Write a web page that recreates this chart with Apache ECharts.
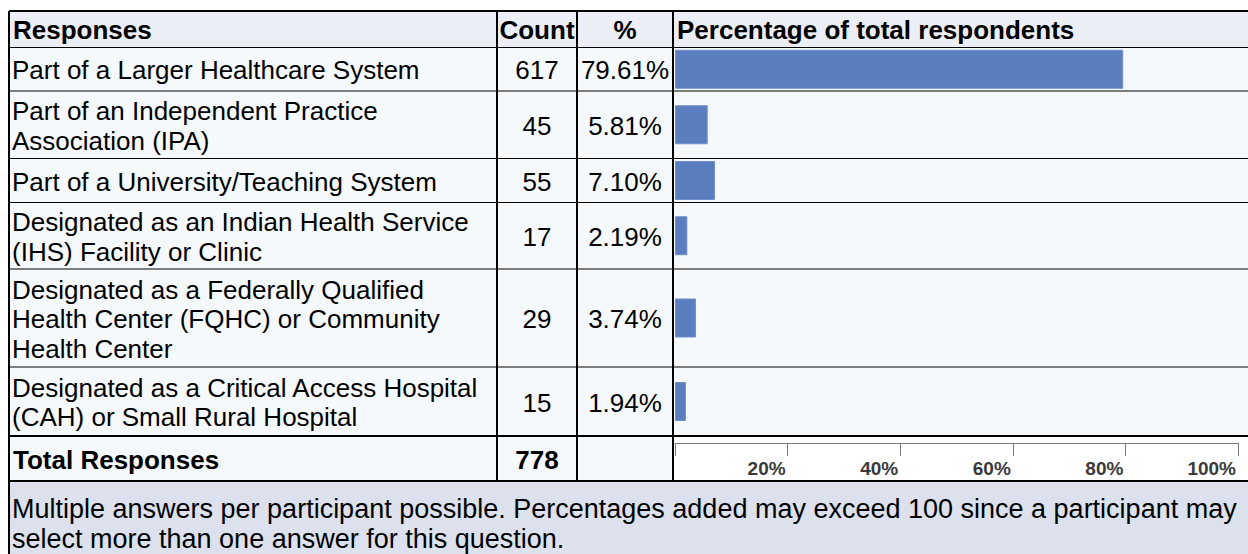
<!DOCTYPE html>
<html>
<head>
<meta charset="utf-8">
<script src="https://cdn.jsdelivr.net/npm/echarts@6/dist/echarts.min.js"></script>
<style>
    html, body {margin: 0; padding: 0; background: #fff;}
    #report-chart {width: 1248px; height: 554px;}
</style>
</head>
<body>
<div id="report-chart"></div>
<script>
// data
var headers = ['Responses', 'Count', '%', 'Percentage of total respondents'];
var responses = [
    'Part of a Larger Healthcare System',
    'Part of an Independent Practice\nAssociation (IPA)',
    'Part of a University/Teaching System',
    'Designated as an Indian Health Service\n(IHS) Facility or Clinic',
    'Designated as a Federally Qualified\nHealth Center (FQHC) or Community\nHealth Center',
    'Designated as a Critical Access Hospital\n(CAH) or Small Rural Hospital'
];
var counts = [617, 45, 55, 17, 29, 15];
var percents = [79.61, 5.81, 7.10, 2.19, 3.74, 1.94];
var totalLabel = 'Total Responses';
var totalCount = 778;
var axisMax = 100;
var axisStep = 20;
var footnote = 'Multiple answers per participant possible. Percentages added may exceed 100 since a participant may\nselect more than one answer for this question.';

// layout of the table (pixels)
var colX = [9, 497, 577, 673, 1250];
var rowY = [11, 47.5, 91, 158.5, 202.5, 269, 367, 436, 481, 556];
var barLeft = 675, barSpan = 563;
var font = '"Liberation Sans", Arial, Helvetica, sans-serif';

var chart = echarts.init(document.getElementById('report-chart'), null, {renderer: 'svg'});

var grids = [], xAxes = [], yAxes = [], series = [];
for (var i = 0; i < responses.length; i++) {
    grids.push({left: barLeft, width: barSpan, top: rowY[i + 1], height: rowY[i + 2] - rowY[i + 1]});
    xAxes.push({gridIndex: i, type: 'value', min: 0, max: axisMax, show: false});
    yAxes.push({gridIndex: i, type: 'category', data: [responses[i]], show: false});
    series.push({
        type: 'bar', xAxisIndex: i, yAxisIndex: i, data: [percents[i]],
        barWidth: 39, z: 3, silent: true,
        itemStyle: {color: '#5A7EBF', borderColor: '#6F8FCB', borderWidth: 1}
    });
}
// scale in the total row
var n = responses.length;
grids.push({left: barLeft, width: barSpan, top: 443, height: 30});
xAxes.push({
    gridIndex: n, type: 'value', position: 'top', min: 0, max: axisMax, interval: axisStep,
    axisLine: {show: true, onZero: false, lineStyle: {color: '#7A7A7A', width: 1}},
    axisTick: {show: true, inside: true, length: 13, lineStyle: {color: '#7A7A7A', width: 1}},
    splitLine: {show: false},
    axisLabel: {
        inside: true, margin: 16, align: 'right', verticalAlign: 'top',
        padding: [0, 2, 0, 0], color: '#3A3A3A', fontSize: 19, fontWeight: 'bold', fontFamily: font,
        formatter: function (v) { return v === 0 ? '' : v + '%'; }
    }
});
yAxes.push({gridIndex: n, type: 'value', min: 0, max: 1, show: false});

// table backgrounds, rules and texts
var els = [];
function rect(x1, y1, x2, y2, fill) {
    els.push({type: 'rect', z: 0, silent: true, shape: {x: x1, y: y1, width: x2 - x1, height: y2 - y1}, style: {fill: fill}});
}
function line(x1, y1, x2, y2, w) {
    els.push({type: 'line', z: 10, silent: true, shape: {x1: x1, y1: y1, x2: x2, y2: y2}, style: {stroke: '#000', lineWidth: w}});
}
function text(str, x, y, align, bold, size, lh) {
    els.push({
        type: 'text', z: 11, silent: true, x: x, y: y,
        style: {
            text: str, fill: '#000', align: align, verticalAlign: 'middle',
            font: (bold ? 'bold ' : '') + size + 'px ' + font, lineHeight: lh || 29.5
        }
    });
}

rect(colX[0], rowY[0], colX[4], rowY[1], '#ECEEF5');
rect(colX[0], rowY[1], colX[4], rowY[7], '#F6F9FB');
rect(colX[0], rowY[7], colX[3], rowY[8], '#F6F9FB');
rect(colX[3], rowY[7], colX[4], rowY[8], '#FFFFFF');
rect(colX[0], rowY[8], colX[4], rowY[9], '#DCE1ED');

for (var r = 0; r < rowY.length - 1; r++) {
    var thick = (r === 0 || r === 7 || r === 8);
    line(colX[0], rowY[r], colX[4], rowY[r], thick ? 2 : 1);
}
line(colX[0], rowY[0], colX[0], rowY[9], 2);
for (var c = 1; c < 4; c++) {
    line(colX[c], rowY[0], colX[c], rowY[8], 2);
}

var hy = (rowY[0] + rowY[1]) / 2 + 1;
text(headers[0], 13, hy, 'left', true, 26);
text(headers[1], (colX[1] + colX[2]) / 2, hy, 'center', true, 26);
text(headers[2], (colX[2] + colX[3]) / 2, hy, 'center', true, 26);
text(headers[3], 677, hy, 'left', true, 26);

for (var k = 0; k < responses.length; k++) {
    var cy = (rowY[k + 1] + rowY[k + 2]) / 2 + 1;
    text(responses[k], 12, cy, 'left', false, 26);
    text(String(counts[k]), (colX[1] + colX[2]) / 2, cy, 'center', false, 26);
    text(percents[k].toFixed(2) + '%', (colX[2] + colX[3]) / 2, cy, 'center', false, 26);
}
var ty = (rowY[7] + rowY[8]) / 2 + 1;
text(totalLabel, 13, ty, 'left', true, 26);
text(String(totalCount), (colX[1] + colX[2]) / 2, ty, 'center', true, 26);
text(footnote, 12, 524, 'left', false, 27, 30.5);

chart.setOption({
    animation: false,
    backgroundColor: '#fff',
    grid: grids,
    xAxis: xAxes,
    yAxis: yAxes,
    series: series,
    graphic: {elements: els}
});
</script>
</body>
</html>
